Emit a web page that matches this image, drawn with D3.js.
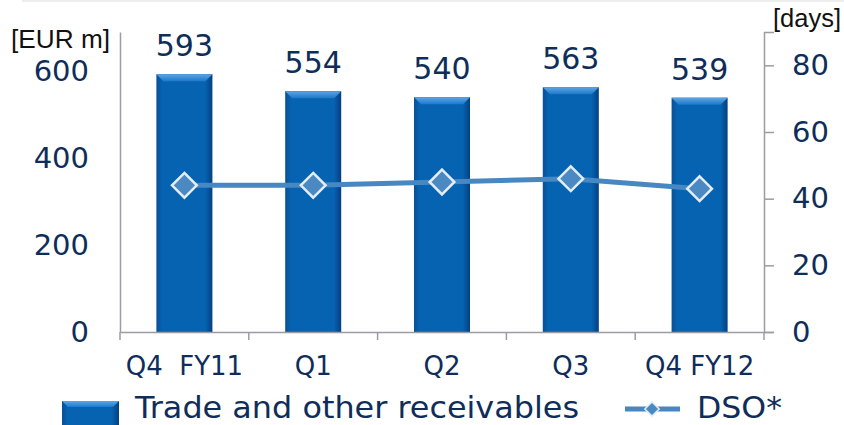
<!DOCTYPE html>
<html>
<head>
<meta charset="utf-8">
<script src="https://cdn.jsdelivr.net/npm/d3@7"></script>
<style>
  html, body { margin: 0; padding: 0; background: #fff; }
  svg { display: block; }
  text { font-family: "DejaVu Sans", Verdana, sans-serif; fill: #0f2d5a; }
</style>
</head>
<body>
<div id="chart"></div>
<script>
// data
const quarters = ["Q4  FY11", "Q1", "Q2", "Q3", "Q4 FY12"];
const receivables = [593, 554, 540, 563, 539];   // EUR m
const dso = [44, 44, 45, 46, 43];                  // days
const leftTicks = [0, 200, 400, 600];
const rightTicks = [0, 20, 40, 60, 80];
const leftMax = 690, rightMax = 90;

const width = 844, height = 425;
const plot = {left: 120, right: 764, top: 32, bottom: 332};

let svg = d3.select("#chart").append("svg")
    .attr("width", width)
    .attr("height", height);

let defs = svg.append("defs");
let grad = defs.append("linearGradient").attr("id", "barGrad")
    .attr("x1", "0").attr("x2", "1").attr("y1", "0").attr("y2", "0");
grad.append("stop").attr("offset", "0%").attr("stop-color", "#0b4f94");
grad.append("stop").attr("offset", "10%").attr("stop-color", "#0563b2");
grad.append("stop").attr("offset", "87%").attr("stop-color", "#0563b2");
grad.append("stop").attr("offset", "100%").attr("stop-color", "#053f7e");

let bevGrad = defs.append("linearGradient").attr("id", "bevGrad")
    .attr("x1", "0").attr("x2", "0").attr("y1", "0").attr("y2", "1");
bevGrad.append("stop").attr("offset", "0%").attr("stop-color", "#5ea6e6");
bevGrad.append("stop").attr("offset", "100%").attr("stop-color", "#1f78c8");

// faint slide border at top
svg.append("line")
    .attr("x1", 22).attr("x2", width).attr("y1", 1).attr("y2", 1)
    .style("stroke", "#eeeeee").style("stroke-width", 2);

let x = d3.scaleBand()
    .domain(quarters)
    .range([plot.left, plot.right])
    .paddingInner(0.565)
    .paddingOuter(0.2825);

let yLeft = d3.scaleLinear().domain([0, leftMax]).range([plot.bottom, plot.top]);
let yRight = d3.scaleLinear().domain([0, rightMax]).range([plot.bottom, plot.top]);

// bars
let bars = svg.append("g");
bars.selectAll("rect")
    .data(receivables)
    .enter()
    .append("rect")
    .attr("x", (d, i) => x(quarters[i]))
    .attr("y", d => yLeft(d))
    .attr("width", x.bandwidth())
    .attr("height", d => yLeft(0) - yLeft(d))
    .style("fill", "url(#barGrad)");

// top bevel of each bar
let bevel = 7;
bars.selectAll("polygon")
    .data(receivables)
    .enter()
    .append("polygon")
    .attr("points", (d, i) => {
      let x0 = x(quarters[i]), x1 = x0 + x.bandwidth(), y0 = yLeft(d);
      return [[x0, y0], [x1, y0], [x1 - bevel, y0 + bevel], [x0 + bevel, y0 + bevel]].join(" ");
    })
    .style("fill", "url(#bevGrad)");

// value labels
svg.append("g").selectAll("text")
    .data(receivables)
    .enter()
    .append("text")
    .attr("x", (d, i) => x(quarters[i]) + x.bandwidth() / 2)
    .attr("y", d => yLeft(d) - 18)
    .attr("text-anchor", "middle")
    .style("font-size", "30px")
    .text(d => d);

// axes
let axisColor = "#9c9ca6";

let leftAxis = svg.append("g")
    .attr("transform", "translate(" + plot.left + ",0)")
    .call(d3.axisLeft(yLeft).tickValues(leftTicks).tickSize(0).tickPadding(31));

let rightAxis = svg.append("g")
    .attr("transform", "translate(" + plot.right + ",0)")
    .call(d3.axisRight(yRight).tickValues(rightTicks).tickSize(10).tickPadding(18));

let bottomAxis = svg.append("g")
    .attr("transform", "translate(0," + plot.bottom + ")")
    .call(d3.axisBottom(x).tickSize(0).tickPadding(25));

// category boundary ticks on x axis
let step = x.step();
let bounds = d3.range(quarters.length + 1).map(i => plot.left + i * step);
svg.append("g").selectAll("line")
    .data(bounds)
    .enter()
    .append("line")
    .attr("x1", d => d).attr("x2", d => d)
    .attr("y1", plot.bottom).attr("y2", plot.bottom + 8)
    .style("stroke", axisColor).style("stroke-width", 1.5);

[leftAxis, rightAxis, bottomAxis].forEach(g => {
  g.select(".domain").style("stroke", axisColor).style("stroke-width", 1.5);
  g.selectAll(".tick line").style("stroke", axisColor).style("stroke-width", 1.5);
  g.selectAll(".tick text")
      .style("font-family", "'DejaVu Sans', Verdana, sans-serif")
      .style("fill", "#0f2d5a");
});
leftAxis.selectAll(".tick text").style("font-size", "29px");
rightAxis.selectAll(".tick text").style("font-size", "29px");
bottomAxis.selectAll(".tick text").style("font-size", "26px").style("white-space", "pre")
    .attr("xml:space", "preserve");

// DSO line
let line = d3.line()
    .x((d, i) => x(quarters[i]) + x.bandwidth() / 2)
    .y(d => yRight(d));

svg.append("path")
    .datum(dso)
    .attr("d", line)
    .style("fill", "none")
    .style("stroke", "#4787c2")
    .style("stroke-width", 5);

let diamond = d3.symbol().type(d3.symbolDiamond2).size(390);
svg.append("g").selectAll("path")
    .data(dso)
    .enter()
    .append("path")
    .attr("d", diamond)
    .attr("transform", (d, i) => "translate(" + (x(quarters[i]) + x.bandwidth() / 2) + "," + yRight(d) + ")")
    .style("fill", "#4a89c1")
    .style("stroke", "#e4edf6")
    .style("stroke-width", 2.5);

// unit labels
svg.append("text")
    .attr("x", 11).attr("y", 48)
    .attr("textLength", 99).attr("lengthAdjust", "spacingAndGlyphs")
    .style("font-family", "'Liberation Sans', Arial, sans-serif")
    .style("font-size", "25px")
    .style("fill", "#111")
    .text("[EUR m]");

svg.append("text")
    .attr("x", 773).attr("y", 27)
    .attr("textLength", 68).attr("lengthAdjust", "spacingAndGlyphs")
    .style("font-family", "'Liberation Sans', Arial, sans-serif")
    .style("font-size", "25px")
    .style("fill", "#111")
    .text("[days]");

// legend
let legend = svg.append("g");
legend.append("rect")
    .attr("x", 62).attr("y", 401).attr("width", 57).attr("height", 24)
    .style("fill", "url(#barGrad)");
legend.append("polygon")
    .attr("points", [[62, 401], [119, 401], [113, 407], [68, 407]].join(" "))
    .style("fill", "url(#bevGrad)");
legend.append("text")
    .attr("x", 135).attr("y", 418)
    .attr("textLength", 444).attr("lengthAdjust", "spacingAndGlyphs")
    .style("font-size", "30px")
    .text("Trade and other receivables");

legend.append("line")
    .attr("x1", 625).attr("x2", 680).attr("y1", 409).attr("y2", 409)
    .style("stroke", "#4787c2").style("stroke-width", 5);
legend.append("path")
    .attr("d", d3.symbol().type(d3.symbolDiamond2).size(130))
    .attr("transform", "translate(652,409)")
    .style("fill", "#4a89c1")
    .style("stroke", "#e4edf6")
    .style("stroke-width", 1.5);
legend.append("text")
    .attr("x", 697).attr("y", 418)
    .attr("textLength", 85).attr("lengthAdjust", "spacingAndGlyphs")
    .style("font-size", "30px")
    .text("DSO*");
</script>
</body>
</html>
